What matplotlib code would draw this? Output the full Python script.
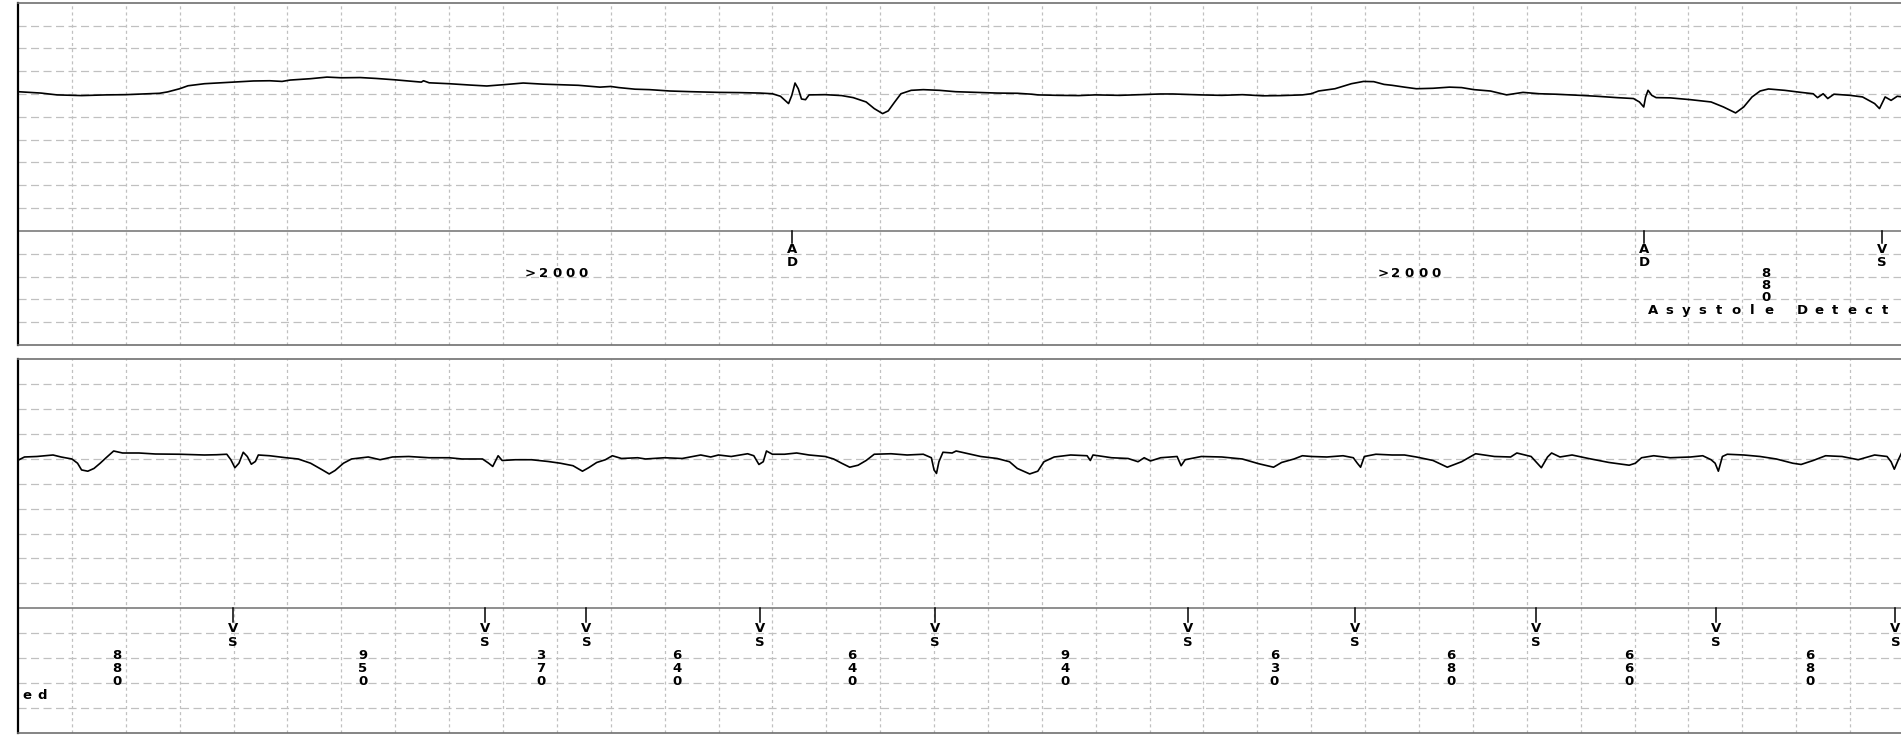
import matplotlib
matplotlib.use('Agg')
import matplotlib.pyplot as plt

matplotlib.rcParams['lines.scale_dashes'] = False

# ---- strip 1 ----
top_t = [0.0, 0.085, 0.145, 0.236, 0.327, 0.4, 0.464, 0.525, 0.555, 0.6, 0.631, 0.692, 0.752, 0.8,
         0.874, 0.934, 0.98, 1.01, 1.086, 1.147, 1.2, 1.27, 1.33, 1.4, 1.45, 1.497, 1.505, 1.526, 1.6,
         1.68, 1.74, 1.805, 1.875, 1.95, 2.0, 2.08, 2.16, 2.2, 2.23, 2.29, 2.344, 2.42, 2.5, 2.6, 2.678,
         2.754, 2.8, 2.83, 2.86, 2.872, 2.884, 2.896, 2.908, 2.923, 2.936, 2.996, 3.057, 3.1, 3.148,
         3.178, 3.209, 3.23, 3.254, 3.277, 3.315, 3.36, 3.42, 3.48, 3.558, 3.634, 3.71, 3.763, 3.785,
         3.86, 3.937, 3.998, 4.089, 4.165, 4.24, 4.286, 4.39, 4.468, 4.544, 4.62, 4.69, 4.767, 4.8,
         4.827, 4.888, 4.949, 4.994, 5.032, 5.07, 5.1, 5.146, 5.19, 5.252, 5.313, 5.358, 5.404, 5.465,
         5.525, 5.586, 5.647, 5.707, 5.798, 5.86, 5.935, 5.996, 6.018, 6.034, 6.041, 6.05, 6.064, 6.08,
         6.132, 6.208, 6.284, 6.33, 6.375, 6.405, 6.436, 6.466, 6.497, 6.557, 6.618, 6.663, 6.679, 6.7,
         6.717, 6.74, 6.8, 6.846, 6.891, 6.909, 6.93, 6.952, 6.975, 6.995]
top_v = [6.10, 6.04, 5.96, 5.93, 5.96, 5.97, 6.0, 6.03, 6.09, 6.23, 6.36, 6.45, 6.49, 6.52,
         6.57, 6.58, 6.55, 6.61, 6.67, 6.74, 6.71, 6.72, 6.68, 6.62, 6.57, 6.52, 6.58, 6.49, 6.45,
         6.39, 6.35, 6.41, 6.48, 6.43, 6.41, 6.38, 6.30, 6.33, 6.28, 6.21, 6.19, 6.13, 6.10, 6.07, 6.06,
         6.04, 6.01, 5.90, 5.58, 5.94, 6.48, 6.23, 5.78, 5.75, 5.96, 5.97, 5.93, 5.84, 5.65,
         5.36, 5.14, 5.26, 5.65, 6.01, 6.16, 6.19, 6.16, 6.10, 6.07, 6.04, 6.03, 5.99, 5.96,
         5.94, 5.93, 5.96, 5.94, 5.97, 6.0, 6.0, 5.96, 5.94, 5.97, 5.92, 5.93, 5.96, 6.01,
         6.13, 6.23, 6.45, 6.55, 6.54, 6.42, 6.38, 6.30, 6.23, 6.25, 6.30, 6.28, 6.19, 6.13,
         5.96, 6.07, 6.01, 5.99, 5.94, 5.90, 5.84, 5.80, 5.65, 5.43, 5.87, 6.16, 5.94, 5.84,
         5.83, 5.75, 5.65, 5.43, 5.17, 5.43, 5.87, 6.13, 6.22, 6.16, 6.07, 6.01, 5.84, 6.01,
         5.80, 5.99, 5.94, 5.87, 5.58, 5.36, 5.87, 5.72, 5.90, 5.87]
top_mark_t = [2.874, 6.036, 6.919]
top_marks = ['AD', 'AD', 'VS']
top_rr_t = [2.0, 5.164, 6.487]
top_rr = ['>2000', '>2000', '880']

# ---- strip 2 ----
bot_t = [0.004, 0.024, 0.07, 0.13, 0.16, 0.2, 0.221, 0.236, 0.259, 0.282, 0.305, 0.327, 0.355, 0.388,
         0.449, 0.51, 0.6, 0.692, 0.737, 0.775, 0.79, 0.805, 0.82, 0.836, 0.851, 0.866, 0.881, 0.892,
         0.934, 0.995, 1.04, 1.086, 1.13, 1.155, 1.177, 1.208, 1.238, 1.3, 1.344, 1.39, 1.45, 1.526,
         1.6, 1.648, 1.724, 1.747, 1.762, 1.782, 1.797, 1.846, 1.906, 1.967, 2.013, 2.06, 2.095, 2.118,
         2.148, 2.18, 2.206, 2.24, 2.3, 2.329, 2.4, 2.465, 2.534, 2.571, 2.6, 2.647, 2.708, 2.731, 2.75,
         2.766, 2.778, 2.8, 2.845, 2.89, 2.936, 2.996, 3.027, 3.057, 3.087, 3.118, 3.148, 3.178, 3.24,
         3.3, 3.36, 3.39, 3.4, 3.409, 3.418, 3.433, 3.467, 3.482, 3.527, 3.573, 3.634, 3.68, 3.709,
         3.755, 3.785, 3.808, 3.846, 3.907, 3.968, 3.98, 3.99, 4.059, 4.12, 4.157, 4.18, 4.203, 4.241,
         4.302, 4.317, 4.332, 4.392, 4.468, 4.544, 4.605, 4.647, 4.66, 4.69, 4.736, 4.767, 4.8, 4.858,
         4.918, 4.956, 4.971, 4.983, 4.997, 5.04, 5.1, 5.146, 5.19, 5.252, 5.305, 5.358, 5.41, 5.48,
         5.54, 5.563, 5.616, 5.639, 5.654, 5.677, 5.692, 5.723, 5.768, 5.829, 5.905, 5.98, 6.003,
         6.026, 6.071, 6.132, 6.208, 6.253, 6.284, 6.299, 6.311, 6.326, 6.344, 6.405, 6.466, 6.526,
         6.587, 6.618, 6.663, 6.709, 6.77, 6.83, 6.891, 6.937, 6.952, 6.964, 6.979, 6.991]
bot_v = [5.96, 6.07, 6.09, 6.15, 6.07, 5.99, 5.82, 5.55, 5.50, 5.61, 5.82, 6.04, 6.31, 6.23,
         6.23, 6.19, 6.18, 6.15, 6.16, 6.18, 5.96, 5.64, 5.82, 6.26, 6.09, 5.78, 5.89, 6.15,
         6.12, 6.04, 5.99, 5.82, 5.55, 5.39, 5.53, 5.82, 5.99, 6.07, 5.96, 6.07, 6.09, 6.04,
         6.04, 5.99, 5.99, 5.82, 5.69, 6.12, 5.93, 5.96, 5.96, 5.89, 5.82, 5.72, 5.50, 5.64,
         5.85, 5.96, 6.12, 6.01, 6.04, 5.99, 6.04, 6.01, 6.15, 6.07, 6.15, 6.09, 6.20, 6.12, 5.77,
         5.88, 6.31, 6.18, 6.18, 6.23, 6.15, 6.09, 5.99, 5.82, 5.66, 5.74, 5.93, 6.18, 6.20,
         6.15, 6.18, 6.04, 5.55, 5.41, 5.88, 6.26, 6.23, 6.31, 6.20, 6.09, 6.01, 5.88, 5.61,
         5.39, 5.50, 5.88, 6.07, 6.15, 6.12, 5.93, 6.15, 6.04, 6.01, 5.88, 6.04, 5.91, 6.04,
         6.09, 5.72, 5.96, 6.09, 6.07, 5.99, 5.80, 5.69, 5.66, 5.85, 5.99, 6.12, 6.09, 6.07,
         6.12, 6.04, 5.82, 5.66, 6.09, 6.18, 6.15, 6.15, 6.07, 5.93, 5.66, 5.88, 6.20, 6.09,
         6.07, 6.23, 6.09, 5.82, 5.64, 6.07, 6.23, 6.07, 6.15, 6.01, 5.85, 5.74, 5.82,
         6.04, 6.12, 6.04, 6.07, 6.12, 5.96, 5.82, 5.50, 6.09, 6.18, 6.15, 6.09, 5.99,
         5.82, 5.77, 5.93, 6.12, 6.09, 5.96, 6.15, 6.09, 5.88, 5.58, 5.96, 6.23]
bot_mark_t = [0.798, 1.733, 2.11, 2.755, 3.403, 4.343, 4.962, 5.635, 6.302, 6.968]
bot_marks = ['VS'] * 10
bot_rr_t = [0.366, 1.28, 1.941, 2.446, 3.094, 3.886, 4.663, 5.318, 5.98, 6.651]
bot_rr = ['880', '950', '370', '640', '640', '940', '630', '680', '660', '680']

message = 'Asystole Detected'
message_t = 6.036

font = dict(family='DejaVu Sans', fontweight='bold', fontsize=9.5, color='black')
grid_col = '#c0c0c0'


def spaced(ax, x0, y, s, pitch):
    for i, ch in enumerate(s):
        ax.text(x0 + (i + 0.5) * pitch, y, ch, ha='center', va='center', clip_on=False, **font)


def strip(ax, t, v, mark_t, marks, rr_t, rr):
    ax.set_xlim(0, 7.0)
    ax.set_ylim(-5, 10)
    ax.set_xticks([])
    ax.set_yticks([])
    for k in range(1, 35):
        ax.axvline(0.2 * k, color=grid_col, lw=0.9, ls=(0, (2.2, 2.2)), zorder=0)
    for k in range(-4, 10):
        if k == 0:
            ax.axhline(0, color='#707070', lw=1.1, zorder=1)
        else:
            ax.axhline(k, color=grid_col, lw=0.9, ls=(0, (5.8, 3.2)), zorder=0)
    ax.plot(t, v, color='black', lw=1.2, zorder=3)
    for x, m in zip(mark_t, marks):
        ax.plot([x, x], [0, -0.55], color='black', lw=1.1)
        ax.text(x, -0.8, m[0], ha='center', va='center', **font)
        ax.text(x, -1.37, m[1], ha='center', va='center', **font)
    for x, s in zip(rr_t, rr):
        if s.startswith('>'):
            spaced(ax, x - len(s) * 0.0494 / 2, -1.88, s, 0.0494)
        else:
            for j, ch in enumerate(s):
                ax.text(x, -1.88 - 0.53 * j, ch, ha='center', va='center', **font)
    for side in ['top', 'bottom']:
        ax.spines[side].set_color('#707070')
        ax.spines[side].set_linewidth(1.2)
    ax.spines['left'].set_color('black')
    ax.spines['left'].set_linewidth(1.6)
    ax.spines['right'].set_visible(False)


fig = plt.figure(figsize=(19.01, 7.36), dpi=100)
ax1 = fig.add_axes([18 / 1901, 391 / 736, 1886 / 1901, 342.3 / 736])
ax2 = fig.add_axes([18 / 1901, 3 / 736, 1886 / 1901, 374 / 736])

strip(ax1, top_t, top_v, top_mark_t, top_marks, top_rr_t, top_rr)
strip(ax2, bot_t, bot_v, bot_mark_t, bot_marks, bot_rr_t, bot_rr)

spaced(ax1, message_t, -3.5, message[:15], 0.0616)
spaced(ax2, 0.004, -3.49, message[15:], 0.056)

fig.savefig('out.png', dpi=100)
